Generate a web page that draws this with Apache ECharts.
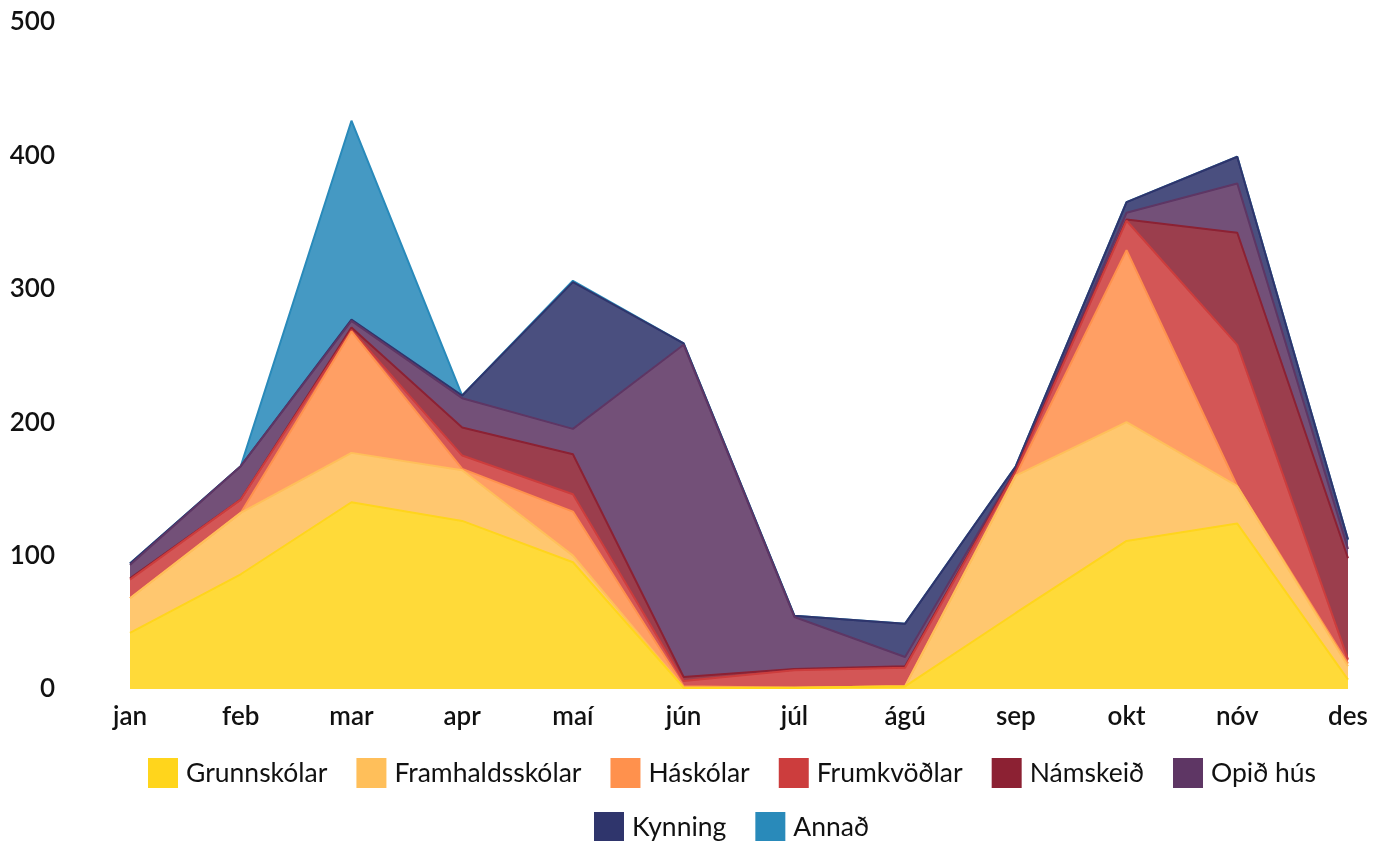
<!DOCTYPE html>
<html>
<head>
<meta charset="utf-8">
<script src="https://cdn.jsdelivr.net/npm/echarts@6/dist/echarts.min.js"></script>
<style>
	html, body { margin: 0; padding: 0; background: #fff; }
	#chart { width: 1384px; height: 841px; }
</style>
</head>
<body>
<div id="chart"></div>
<script>
	// mánuðir
	var months = ['jan', 'feb', 'mar', 'apr', 'maí', 'jún', 'júl', 'ágú', 'sep', 'okt', 'nóv', 'des'];

	// fjöldi eftir flokkum (staflað)
	var grunnskolar      = [42, 86, 140, 126, 95, 1, 1, 2, 57, 111, 124, 7];
	var framhaldsskolar  = [26, 46, 37, 38, 5, 0, 0, 0, 103, 89, 28, 10];
	var haskolar         = [0, 0, 91, 1, 33, 1, 0, 0, 0, 129, 0, 2];
	var frumkvodlar      = [14, 10, 1, 10, 13, 4, 13, 14, 3, 22, 106, 3];
	var namskeid         = [1, 0, 2, 21, 30, 3, 1, 1, 1, 1, 84, 76];
	var opidHus          = [10, 25, 5, 22, 19, 249, 39, 7, 1, 5, 37, 7];
	var kynning          = [1, 0, 1, 2, 110, 1, 1, 25, 2, 8, 20, 7];
	var annad            = [0, 0, 149, 0, 1, 0, 0, 0, 0, 0, 0, 0];

	var yTicks = [0, 100, 200, 300, 400, 500];

	var names = ['Grunnskólar', 'Framhaldsskólar', 'Háskólar', 'Frumkvöðlar', 'Námskeið', 'Opið hús', 'Kynning', 'Annað'];
	var colors = ['#FFD51C', '#FFBF5A', '#FF914D', '#CC3D3D', '#8C2133', '#5E3664', '#2F356C', '#298ABA'];
	var values = [grunnskolar, framhaldsskolar, haskolar, frumkvodlar, namskeid, opidHus, kynning, annad];

	var series = [];
	for (var i = 0; i < names.length; i++) {
		series.push({
			name: names[i],
			type: 'line',
			stack: 'total',
			data: values[i],
			symbol: 'none',
			color: colors[i],
			// neðri flokkar teiknaðir ofan á
			z: 2 + names.length - i,
			lineStyle: { width: 2, color: colors[i] },
			areaStyle: { color: colors[i], opacity: 0.87 }
		});
	}

	var labelFont = { fontFamily: 'Lato', fontSize: 26, fontWeight: 600, color: '#111' };
	var legendText = { fontFamily: 'Lato', fontSize: 26.5, color: '#111', padding: [0, 0, 0, 3] };

	var myChart = echarts.init(document.getElementById('chart'));
	myChart.setOption({
		animation: false,
		legend: [{
			data: names.slice(0, 6),
			top: 753,
			left: 143,
			itemWidth: 30,
			itemHeight: 30,
			itemGap: 29,
			icon: 'rect',
			textStyle: legendText
		}, {
			data: names.slice(6),
			top: 807,
			left: 589,
			itemWidth: 30,
			itemHeight: 30,
			itemGap: 29,
			icon: 'rect',
			textStyle: legendText
		}],
		grid: { left: 130, right: 36, top: 22, bottom: 152, containLabel: false },
		xAxis: {
			type: 'category',
			boundaryGap: false,
			data: months,
			axisLine: { show: false },
			axisTick: { show: false },
			splitLine: { show: false },
			axisLabel: Object.assign({ margin: 15 }, labelFont)
		},
		yAxis: {
			type: 'value',
			min: yTicks[0],
			max: yTicks[yTicks.length - 1],
			interval: 100,
			axisLine: { show: false },
			axisTick: { show: false },
			splitLine: { show: false },
			axisLabel: Object.assign({ margin: 75 }, labelFont)
		},
		series: series
	});
</script>
</body>
</html>
